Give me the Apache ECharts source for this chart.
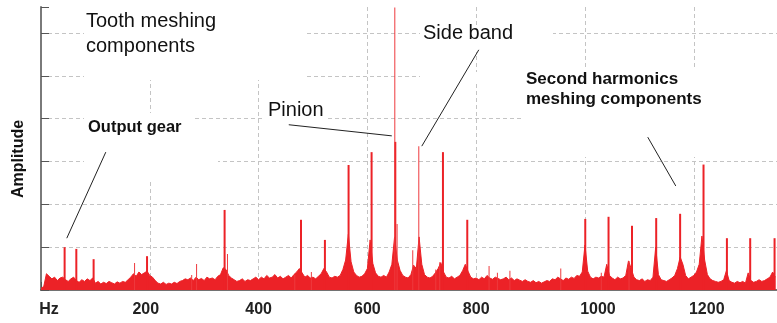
<!DOCTYPE html>
<html>
<head>
<meta charset="utf-8">
<script src="https://cdn.jsdelivr.net/npm/echarts@6/dist/echarts.min.js"></script>
<style>
html,body{margin:0;padding:0;background:#fff;}
#c{width:777px;height:323px;}
</style>
</head>
<body>
<div id="c"></div>
<script>
// ---- data ----
// noise floor sampled every 5 Hz starting at 0 Hz
const noiseStartHz = 0;
const noiseStepHz = 5;
const noiseAmp = [
 0.04,0.08,0.38,0.32,0.26,0.3,0.22,0.28,0.3,0.24,
 0.2,0.26,0.3,0.22,0.18,0.24,0.2,0.26,0.22,0.28,
 0.16,0.2,0.14,0.18,0.15,0.2,0.17,0.14,0.19,0.16,
 0.2,0.18,0.24,0.3,0.38,0.32,0.42,0.36,0.4,0.44,
 0.34,0.3,0.22,0.16,0.14,0.18,0.13,0.16,0.14,0.18,
 0.15,0.2,0.22,0.26,0.24,0.28,0.22,0.3,0.24,0.27,
 0.22,0.3,0.26,0.28,0.24,0.32,0.36,0.52,0.48,0.34,
 0.28,0.24,0.2,0.22,0.26,0.2,0.24,0.22,0.26,0.3,
 0.24,0.3,0.26,0.34,0.28,0.3,0.36,0.28,0.32,0.26,
 0.3,0.34,0.28,0.36,0.42,0.5,0.4,0.3,0.34,0.28,
 0.3,0.26,0.32,0.38,0.5,0.42,0.3,0.28,0.32,0.3,
 0.34,0.48,0.7,1.3,0.66,0.42,0.34,0.3,0.32,0.38,
 0.5,1.17,0.62,0.4,0.32,0.3,0.34,0.3,0.42,0.6,
 1.24,0.7,0.46,0.34,0.3,0.28,0.36,0.58,0.5,1.24,
 0.6,0.36,0.3,0.28,0.32,0.4,0.5,0.64,0.42,0.3,
 0.28,0.32,0.26,0.3,0.34,0.45,0.6,0.44,0.3,0.26,
 0.28,0.24,0.3,0.26,0.34,0.28,0.25,0.3,0.27,0.24,
 0.26,0.3,0.24,0.28,0.22,0.26,0.23,0.2,0.24,0.2,
 0.18,0.22,0.17,0.2,0.16,0.19,0.22,0.2,0.26,0.24,
 0.3,0.26,0.22,0.28,0.25,0.3,0.27,0.34,0.32,0.42,
 1.05,0.44,0.3,0.26,0.3,0.28,0.32,0.3,0.6,0.34,
 0.28,0.24,0.3,0.26,0.28,0.34,0.68,0.5,0.3,0.24,
 0.22,0.26,0.2,0.24,0.22,0.3,1.0,0.36,0.24,0.22,
 0.2,0.24,0.28,0.34,0.5,0.77,0.6,0.34,0.26,0.3,
 0.34,0.42,0.6,1.26,0.7,0.36,0.26,0.22,0.2,0.18,
 0.2,0.24,0.45,0.22,0.18,0.16,0.2,0.17,0.2,0.16,
 0.4,0.22,0.18,0.2,0.24,0.2,0.22,0.26,0.3,0.42,
 0.3
];
// main (solid) spectral lines
const peakHz  = [42.5, 64, 95.8, 194, 336.6, 477, 521, 564.5, 606.8, 650.4, 738, 782.7, 999.6, 1042.4, 1085.5, 1130, 1174, 1217, 1260, 1302.8, 1347.6];
const peakAmp = [1.0, 0.96, 0.72, 0.79, 1.87, 1.64, 1.17, 2.92, 3.22, 3.46, 3.22, 1.64, 1.66, 1.71, 1.5, 1.68, 1.78, 2.93, 1.21, 1.21, 1.21];
// thin spectral lines
const thinHz  = [172, 277, 286, 342.8, 466.5, 497, 650.4, 654.6, 683.4, 694.5, 725.7, 733, 823.7, 839, 862, 955.5, 1030, 1081];
const thinAmp = [0.63, 0.35, 0.61, 0.84, 0.35, 0.42, 6.6, 1.54, 0.93, 3.36, 0.48, 0.65, 0.56, 0.4, 0.45, 0.5, 0.4, 0.68];
// x tick labels
const xTicks = [0, 200, 400, 600, 800, 1000, 1200];
const xTickText = ['Hz', '200', '400', '600', '800', '1000', '1200'];
// annotation pointers: [fromHz, fromAmp, toHz, toAmp]
const pointerLines = [
  [119.1, 3.22, 47.4, 1.21],
  [455.5, 3.86, 644.9, 3.6],
  [804.8, 5.61, 700, 3.36],
  [1115.4, 3.57, 1166.9, 2.43]
];

// ---- chart ----
const RED = '#ec2227';
const FONT = '"Liberation Sans", Arial, sans-serif';
const noiseData = noiseAmp.map((a, i) => [noiseStartHz + i * noiseStepHz, a]);
const peakData = peakHz.map((f, i) => [f, peakAmp[i]]);
const thinData = thinHz.map((f, i) => [f, thinAmp[i]]);
const labelStyleKey = {'Hz': 'hz', '200': 'l', '1000': 'r', '1200': 'r'};

const chart = echarts.init(document.getElementById('c'), null, {renderer: 'canvas'});
chart.setOption({
  animation: false,
  backgroundColor: '#fff',
  grid: {left: 41, right: 0, top: 7, bottom: 33, containLabel: false},
  xAxis: {
    type: 'value', min: 0, max: 1353, interval: 200,
    axisLine: {show: true, lineStyle: {color: '#444', width: 1.5}},
    axisTick: {show: true, inside: true, length: 8, lineStyle: {color: '#555'}},
    splitLine: {show: true, showMaxLine: false, lineStyle: {color: '#c4c4c4', type: [4, 3]}},
    axisLabel: {
      margin: 12, color: '#222', fontFamily: FONT, fontSize: 16, fontWeight: 'bold',
      showMaxLabel: false,
      formatter: v => {
        const idx = xTicks.indexOf(v);
        if (idx < 0) return '';
        const t = xTickText[idx];
        const k = labelStyleKey[t] || 'n';
        return '{' + k + '|' + t + '}';
      },
      rich: {
        n: {fontFamily: FONT, fontSize: 16, fontWeight: 'bold', color: '#222'},
        hz: {fontFamily: FONT, fontSize: 16, fontWeight: 'bold', color: '#222', padding: [0, 0, 0, 16]},
        l: {fontFamily: FONT, fontSize: 16, fontWeight: 'bold', color: '#222', padding: [0, 8, 0, 0]},
        r: {fontFamily: FONT, fontSize: 16, fontWeight: 'bold', color: '#222', padding: [0, 0, 0, 26]}
      }
    }
  },
  yAxis: {
    type: 'value', min: 0, max: 6.61, interval: 1,
    axisLine: {show: true, lineStyle: {color: '#7a7a7a', width: 2}},
    axisTick: {show: true, inside: true, length: 8, lineStyle: {color: '#555'}},
    axisLabel: {show: false},
    splitLine: {show: true, showMinLine: false, showMaxLine: false, lineStyle: {color: '#c4c4c4', type: [4, 3]}}
  },
  series: [
    {
      name: 'noise', type: 'line', data: noiseData, showSymbol: false, symbol: 'none',
      lineStyle: {color: RED, width: 1}, areaStyle: {color: RED, opacity: 1},
      itemStyle: {color: RED}, z: 2,
      markLine: {
        silent: true, symbol: ['none', 'none'], animation: false,
        label: {show: false},
        lineStyle: {color: '#222', width: 1, type: 'solid'},
        data: pointerLines.map(p => [{coord: [p[0], p[1]]}, {coord: [p[2], p[3]]}])
      }
    },
    {
      name: 'peaks', type: 'bar', data: peakData, barWidth: 2, barGap: '-100%',
      itemStyle: {color: RED}, z: 3
    },
    {
      name: 'thin', type: 'bar', data: thinData, barWidth: 1, barGap: '-100%',
      itemStyle: {color: '#ee3a3e'}, z: 3
    }
  ],
  graphic: [
    // white label boxes that interrupt the dashed grid
    {type: 'rect', z: 1, shape: {x: 84, y: 0, width: 223, height: 80}, style: {fill: '#fff'}},
    {type: 'rect', z: 1, shape: {x: 84, y: 113, width: 110, height: 27}, style: {fill: '#fff'}},
    {type: 'rect', z: 1, shape: {x: 84, y: 140, width: 134, height: 40}, style: {fill: '#fff'}},
    {type: 'rect', z: 1, shape: {x: 264, y: 100, width: 62, height: 26}, style: {fill: '#fff'}},
    {type: 'rect', z: 1, shape: {x: 420, y: 26, width: 133, height: 26}, style: {fill: '#fff'}},
    {type: 'rect', z: 1, shape: {x: 420, y: 72, width: 103, height: 10}, style: {fill: '#fff'}},
    {type: 'rect', z: 1, shape: {x: 523, y: 68, width: 254, height: 89}, style: {fill: '#fff'}},
    // texts
    {type: 'text', z: 10, x: 86, y: 9, style: {text: 'Tooth meshing\ncomponents', font: '20px ' + FONT, fill: '#111', lineHeight: 25, textVerticalAlign: 'top'}},
    {type: 'text', z: 10, x: 88, y: 119, style: {text: 'Output gear', font: 'bold 16.5px ' + FONT, fill: '#111', textVerticalAlign: 'top'}},
    {type: 'text', z: 10, x: 268, y: 100, style: {text: 'Pinion', font: '20px ' + FONT, fill: '#111', textVerticalAlign: 'top'}},
    {type: 'text', z: 10, x: 423, y: 23, style: {text: 'Side band', font: '20px ' + FONT, fill: '#111', textVerticalAlign: 'top'}},
    {type: 'text', z: 10, x: 526, y: 69, style: {text: 'Second harmonics\nmeshing components', font: 'bold 17px ' + FONT, fill: '#111', lineHeight: 20, textVerticalAlign: 'top'}},
    {type: 'text', z: 10, x: 18.5, y: 159, rotation: Math.PI / 2, style: {text: 'Amplitude', font: 'bold 16px ' + FONT, fill: '#111', textAlign: 'center', textVerticalAlign: 'middle'}}
  ]
});
</script>
</body>
</html>
